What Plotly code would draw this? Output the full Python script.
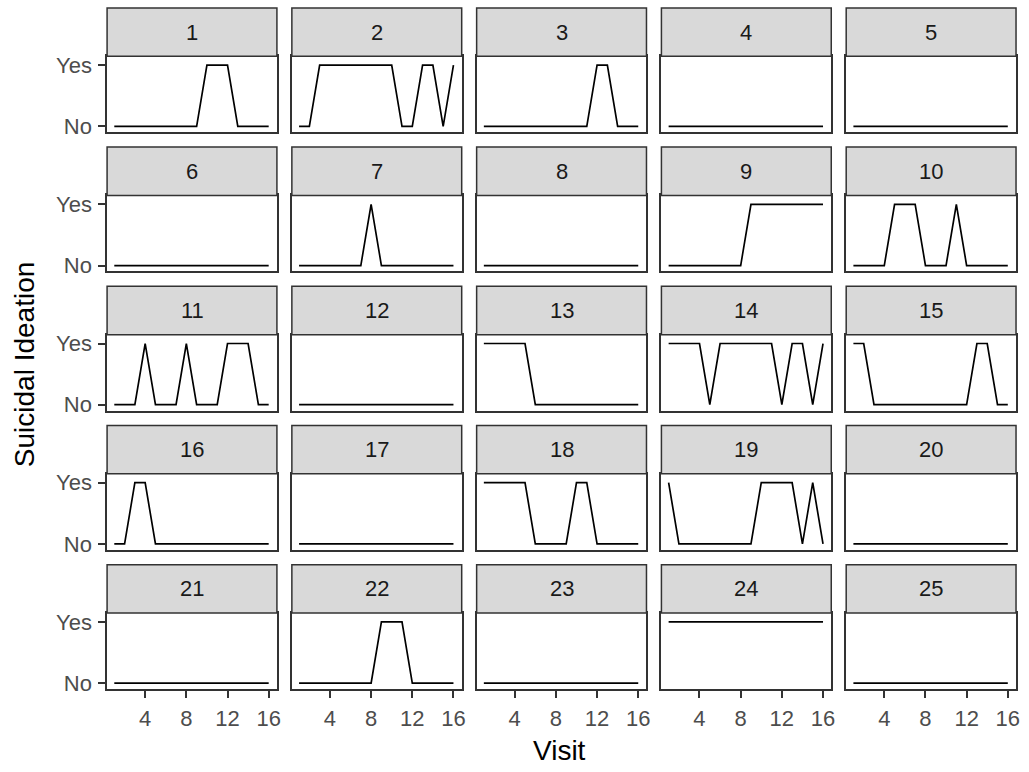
import plotly.graph_objects as go

# ---- data ----
visits = list(range(1, 17))
subjects = [str(i) for i in range(1, 26)]
y_tick_vals = [0, 1]
y_tick_text = ["No", "Yes"]
x_tick_vals = [4, 8, 12, 16]

s01 = [0, 0, 0, 0, 0, 0, 0, 0, 0, 1, 1, 1, 0, 0, 0, 0]
s02 = [0, 0, 1, 1, 1, 1, 1, 1, 1, 1, 0, 0, 1, 1, 0, 1]
s03 = [0, 0, 0, 0, 0, 0, 0, 0, 0, 0, 0, 1, 1, 0, 0, 0]
s04 = [0, 0, 0, 0, 0, 0, 0, 0, 0, 0, 0, 0, 0, 0, 0, 0]
s05 = [0, 0, 0, 0, 0, 0, 0, 0, 0, 0, 0, 0, 0, 0, 0, 0]
s06 = [0, 0, 0, 0, 0, 0, 0, 0, 0, 0, 0, 0, 0, 0, 0, 0]
s07 = [0, 0, 0, 0, 0, 0, 0, 1, 0, 0, 0, 0, 0, 0, 0, 0]
s08 = [0, 0, 0, 0, 0, 0, 0, 0, 0, 0, 0, 0, 0, 0, 0, 0]
s09 = [0, 0, 0, 0, 0, 0, 0, 0, 1, 1, 1, 1, 1, 1, 1, 1]
s10 = [0, 0, 0, 0, 1, 1, 1, 0, 0, 0, 1, 0, 0, 0, 0, 0]
s11 = [0, 0, 0, 1, 0, 0, 0, 1, 0, 0, 0, 1, 1, 1, 0, 0]
s12 = [0, 0, 0, 0, 0, 0, 0, 0, 0, 0, 0, 0, 0, 0, 0, 0]
s13 = [1, 1, 1, 1, 1, 0, 0, 0, 0, 0, 0, 0, 0, 0, 0, 0]
s14 = [1, 1, 1, 1, 0, 1, 1, 1, 1, 1, 1, 0, 1, 1, 0, 1]
s15 = [1, 1, 0, 0, 0, 0, 0, 0, 0, 0, 0, 0, 1, 1, 0, 0]
s16 = [0, 0, 1, 1, 0, 0, 0, 0, 0, 0, 0, 0, 0, 0, 0, 0]
s17 = [0, 0, 0, 0, 0, 0, 0, 0, 0, 0, 0, 0, 0, 0, 0, 0]
s18 = [1, 1, 1, 1, 1, 0, 0, 0, 0, 1, 1, 0, 0, 0, 0, 0]
s19 = [1, 0, 0, 0, 0, 0, 0, 0, 0, 1, 1, 1, 1, 0, 1, 0]
s20 = [0, 0, 0, 0, 0, 0, 0, 0, 0, 0, 0, 0, 0, 0, 0, 0]
s21 = [0, 0, 0, 0, 0, 0, 0, 0, 0, 0, 0, 0, 0, 0, 0, 0]
s22 = [0, 0, 0, 0, 0, 0, 0, 0, 1, 1, 1, 0, 0, 0, 0, 0]
s23 = [0, 0, 0, 0, 0, 0, 0, 0, 0, 0, 0, 0, 0, 0, 0, 0]
s24 = [1, 1, 1, 1, 1, 1, 1, 1, 1, 1, 1, 1, 1, 1, 1, 1]
s25 = [0, 0, 0, 0, 0, 0, 0, 0, 0, 0, 0, 0, 0, 0, 0, 0]

series = [s01, s02, s03, s04, s05, s06, s07, s08, s09, s10,
          s11, s12, s13, s14, s15, s16, s17, s18, s19, s20,
          s21, s22, s23, s24, s25]

# ---- layout geometry (pixels) ----
W, H = 1029, 772
LEFT0, PW, GAP = 107.5, 170.5, 15.0
TOP0, PITCH, STRIP_H, BLOCK_H = 5.0, 141.0, 49.0, 126.0

FONT = "Liberation Sans, Arial, sans-serif"
BORDER = "#333333"
LW = 1.5
TICK_SIZE = 22
TITLE_SIZE = 28

fig = go.Figure()
layout = dict(
    width=W, height=H,
    margin=dict(l=0, r=0, t=0, b=0),
    paper_bgcolor="white", plot_bgcolor="white",
    showlegend=False,
    font=dict(family=FONT, size=TICK_SIZE, color="#4D4D4D"),
)
shapes = []
annotations = []

def px_x(p):
    return p / W

def px_y(p):
    return 1 - p / H

for i, (name, vals) in enumerate(zip(subjects, series)):
    r, c = divmod(i, 5)
    x0 = LEFT0 + c * (PW + GAP)
    x1 = x0 + PW
    st = TOP0 + r * PITCH
    sb = st + STRIP_H
    pb = st + BLOCK_H
    xa = "xaxis" if i == 0 else f"xaxis{i+1}"
    ya = "yaxis" if i == 0 else f"yaxis{i+1}"
    xr = "x" if i == 0 else f"x{i+1}"
    yr = "y" if i == 0 else f"y{i+1}"

    fig.add_trace(go.Scatter(
        x=visits, y=vals, mode="lines", xaxis=xr, yaxis=yr,
        line=dict(color="black", width=1.7), hoverinfo="skip",
    ))

    bottom = r == 4
    left = c == 0
    layout[xa] = dict(
        domain=[px_x(x0), px_x(x1)], anchor=yr,
        range=[0.3, 16.8], tickvals=x_tick_vals,
        showticklabels=bottom, ticks="outside" if bottom else "",
        ticklen=7, tickwidth=LW, tickcolor=BORDER,
        ticklabelstandoff=2,
        tickfont=dict(family=FONT, size=TICK_SIZE, color="#4D4D4D"),
        showline=True, mirror=True, linecolor=BORDER, linewidth=LW,
        showgrid=False, zeroline=False, fixedrange=True,
    )
    layout[ya] = dict(
        domain=[px_y(pb), px_y(sb)], anchor=xr,
        range=[-0.097, 1.145], tickvals=y_tick_vals, ticktext=y_tick_text,
        showticklabels=left, ticks="outside" if left else "",
        ticklen=7, tickwidth=LW, tickcolor=BORDER,
        ticklabelstandoff=2,
        tickfont=dict(family=FONT, size=TICK_SIZE, color="#4D4D4D"),
        showline=True, mirror=True, linecolor=BORDER, linewidth=LW,
        showgrid=False, zeroline=False, fixedrange=True,
    )

    shapes.append(dict(
        type="rect", xref="paper", yref="paper",
        x0=px_x(x0), x1=px_x(x1), y0=px_y(sb), y1=px_y(st),
        fillcolor="#D9D9D9", line=dict(color=BORDER, width=LW), layer="above",
    ))
    annotations.append(dict(
        text=name, xref="paper", yref="paper",
        x=px_x((x0 + x1) / 2), y=px_y((st + sb) / 2),
        xanchor="center", yanchor="middle", showarrow=False,
        font=dict(family=FONT, size=TICK_SIZE, color="#1A1A1A"),
    ))

annotations.append(dict(
    text="Visit", xref="paper", yref="paper",
    x=px_x(562), y=px_y(757), xanchor="center", yanchor="middle",
    showarrow=False, font=dict(family=FONT, size=TITLE_SIZE, color="black"),
))
annotations.append(dict(
    text="Suicidal Ideation", xref="paper", yref="paper",
    x=px_x(24), y=px_y(366), xanchor="center", yanchor="middle",
    textangle=-90, showarrow=False,
    font=dict(family=FONT, size=TITLE_SIZE, color="black"),
))

layout["shapes"] = shapes
layout["annotations"] = annotations
fig.update_layout(**layout)
fig.write_html("out.html")
